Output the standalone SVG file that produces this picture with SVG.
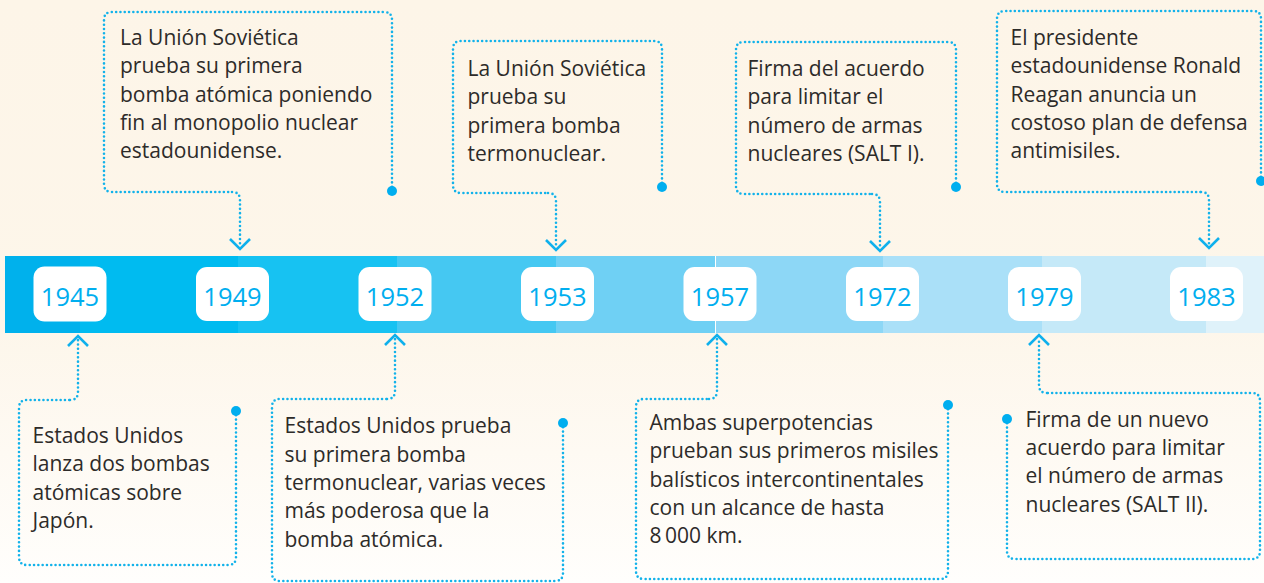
<svg xmlns="http://www.w3.org/2000/svg" width="1264" height="583" viewBox="0 0 1264 583">
<defs>
<linearGradient id="bg" x1="0" y1="0" x2="0" y2="1">
<stop offset="0" stop-color="#fdf5e8"/>
<stop offset="0.55" stop-color="#fdf6ea"/>
<stop offset="1" stop-color="#fffefc"/>
</linearGradient>
<style>
.dot{fill:none;stroke:#12b2ea;stroke-width:2.6;stroke-dasharray:0 4.3;stroke-linecap:round;stroke-linejoin:round}
.chev{fill:none;stroke:#0fb0ec;stroke-width:2.6;stroke-linecap:butt;stroke-linejoin:miter}
.pin{fill:#00aeef}
.txt{font-family:"Open Sans","Noto Sans","DejaVu Sans",sans-serif;font-size:21px;fill:#2d2b29}
.yr{font-family:"Open Sans","Noto Sans","DejaVu Sans",sans-serif;font-size:25.5px;fill:#00aeef;text-anchor:middle}
.ybox{fill:#ffffff}
</style>
</defs>
<rect x="0" y="0" width="1264" height="583" fill="url(#bg)"/>

<g id="band">
<rect x="5" y="256" width="75" height="77" fill="#00b1ec"/>
<rect x="80" y="256" width="158" height="77" fill="#00bbf0"/>
<rect x="238" y="256" width="159" height="77" fill="#17c2f2"/>
<rect x="397" y="256" width="159" height="77" fill="#45c8f2"/>
<rect x="556" y="256" width="159" height="77" fill="#6fd0f4"/>
<rect x="715" y="256" width="1" height="77" fill="#ffffff"/>
<rect x="716" y="256" width="167" height="77" fill="#8dd7f6"/>
<rect x="883" y="256" width="159" height="77" fill="#aae0f8"/>
<rect x="1042" y="256" width="164" height="77" fill="#c5e9f8"/>
<rect x="1206" y="256" width="58" height="77" fill="#dff2fa"/>
</g>

<g id="y1945"><rect class="ybox" x="33.5" y="266.5" width="73" height="55" rx="11"/><text class="yr" x="70" y="306">1945</text></g>
<g id="y1949"><rect class="ybox" x="196" y="267" width="73" height="54" rx="11"/><text class="yr" x="232.5" y="306">1949</text></g>
<g id="y1952"><rect class="ybox" x="358.5" y="267" width="73" height="54" rx="11"/><text class="yr" x="395" y="306">1952</text></g>
<g id="y1953"><rect class="ybox" x="521" y="267" width="73" height="54" rx="11"/><text class="yr" x="557.5" y="306">1953</text></g>
<g id="y1957"><rect class="ybox" x="683.5" y="267" width="73" height="54" rx="11"/><text class="yr" x="720" y="306">1957</text></g>
<g id="y1972"><rect class="ybox" x="846" y="267" width="73" height="54" rx="11"/><text class="yr" x="882.5" y="306">1972</text></g>
<g id="y1979"><rect class="ybox" x="1008" y="267" width="73" height="54" rx="11"/><text class="yr" x="1044.5" y="306">1979</text></g>
<g id="y1983"><rect class="ybox" x="1170" y="267" width="73" height="54" rx="11"/><text class="yr" x="1206.5" y="306">1983</text></g>

<g id="note1949">
<path class="dot" d="M392,191 V20 Q392,12 384,12 H112 Q104,12 104,20 V184 Q104,192 112,192 H232"/>
<circle class="pin" cx="392" cy="191" r="5"/>
<text class="txt"><tspan x="120" y="45">La Unión Soviética</tspan><tspan x="120" y="73.3">prueba su primera</tspan><tspan x="120" y="101.6">bomba atómica poniendo</tspan><tspan x="120" y="129.9">fin al monopolio nuclear</tspan><tspan x="120" y="158.2">estadounidense.</tspan></text>
</g>

<g id="note1953">
<path class="dot" d="M662,187 V49 Q662,41 654,41 H461 Q453,41 453,49 V185 Q453,193 461,193 H548"/>
<circle class="pin" cx="662" cy="187" r="5"/>
<text class="txt"><tspan x="467.5" y="76">La Unión Soviética</tspan><tspan x="467.5" y="104.3">prueba su</tspan><tspan x="467.5" y="132.6">primera bomba</tspan><tspan x="467.5" y="160.9">termonuclear.</tspan></text>
</g>

<g id="note1972">
<path class="dot" d="M956,187 V50 Q956,42 948,42 H744 Q736,42 736,50 V186 Q736,194 744,194 H872"/>
<circle class="pin" cx="956" cy="187" r="5"/>
<text class="txt"><tspan x="747.5" y="76">Firma del acuerdo</tspan><tspan x="747.5" y="104.3">para limitar el</tspan><tspan x="747.5" y="132.6">número de armas</tspan><tspan x="747.5" y="160.9">nucleares (SALT I).</tspan></text>
</g>

<g id="note1983">
<path class="dot" d="M1261,181 V19 Q1261,11 1253,11 H1005 Q997,11 997,19 V184 Q997,192 1005,192 H1201"/>
<circle class="pin" cx="1261" cy="181" r="5"/>
<text class="txt"><tspan x="1010.5" y="45">El presidente</tspan><tspan x="1010.5" y="73.3">estadounidense Ronald</tspan><tspan x="1010.5" y="101.6">Reagan anuncia un</tspan><tspan x="1010.5" y="129.9">costoso plan de defensa</tspan><tspan x="1010.5" y="158.2">antimisiles.</tspan></text>
</g>

<g id="note1945">
<path class="dot" d="M236,411 V557 Q236,565 228,565 H27 Q19,565 19,557 V408 Q19,400 27,400 H70"/>
<circle class="pin" cx="236" cy="411" r="5"/>
<text class="txt"><tspan x="32.5" y="443">Estados Unidos</tspan><tspan x="32.5" y="471.3">lanza dos bombas</tspan><tspan x="32.5" y="499.6">atómicas sobre</tspan><tspan x="32.5" y="527.9">Japón.</tspan></text>
</g>

<g id="note1952">
<path class="dot" d="M563,423 V573 Q563,581 555,581 H280 Q272,581 272,573 V407 Q272,399 280,399 H387"/>
<circle class="pin" cx="563" cy="423" r="5"/>
<text class="txt"><tspan x="284.5" y="433.3">Estados Unidos prueba</tspan><tspan x="284.5" y="461.6">su primera bomba</tspan><tspan x="284.5" y="489.9">termonuclear, varias veces</tspan><tspan x="284.5" y="518.2">más poderosa que la</tspan><tspan x="284.5" y="546.5">bomba atómica.</tspan></text>
</g>

<g id="note1957">
<path class="dot" d="M948,405 V571 Q948,579 940,579 H644 Q636,579 636,571 V407 Q636,399 644,399 H709"/>
<circle class="pin" cx="948" cy="405" r="5"/>
<text class="txt"><tspan x="649.5" y="430">Ambas superpotencias</tspan><tspan x="649.5" y="458.3">prueban sus primeros misiles</tspan><tspan x="649.5" y="486.6">balísticos intercontinentales</tspan><tspan x="649.5" y="514.9">con un alcance de hasta</tspan><tspan x="649.5" y="543.2">8&#8201;000 km.</tspan></text>
</g>

<g id="note1979">
<path class="dot" d="M1007,419 V551 Q1007,559 1015,559 H1252 Q1260,559 1260,551 V401 Q1260,393 1252,393 H1047"/>
<circle class="pin" cx="1007" cy="419" r="5"/>
<text class="txt"><tspan x="1025.5" y="426.7">Firma de un nuevo</tspan><tspan x="1025.5" y="455">acuerdo para limitar</tspan><tspan x="1025.5" y="483.3">el número de armas</tspan><tspan x="1025.5" y="511.6">nucleares (SALT II).</tspan></text>
</g>

<g id="connectors">
<path class="dot" d="M232,192 Q240,192 240,200 V246"/>
<path class="chev" d="M230,239 L240,249 L250,239"/>
<path class="dot" d="M548,193 Q556,193 556,201 V247"/>
<path class="chev" d="M546,240 L556,250 L566,240"/>
<path class="dot" d="M872,194 Q880,194 880,202 V247"/>
<path class="chev" d="M870,241 L880,251 L890,241"/>
<path class="dot" d="M1201,192 Q1209,192 1209,200 V245"/>
<path class="chev" d="M1199,238 L1209,248 L1219,238"/>
<path class="dot" d="M70,400 Q78,400 78,392 V339"/>
<path class="chev" d="M68,346 L78,336 L88,346"/>
<path class="dot" d="M387,399 Q395,399 395,391 V338"/>
<path class="chev" d="M385,345 L395,335 L405,345"/>
<path class="dot" d="M709,399 Q717,399 717,391 V338"/>
<path class="chev" d="M707,345 L717,335 L727,345"/>
<path class="dot" d="M1047,393 Q1039,393 1039,385 V338"/>
<path class="chev" d="M1029,345 L1039,335 L1049,345"/>
</g>
</svg>
